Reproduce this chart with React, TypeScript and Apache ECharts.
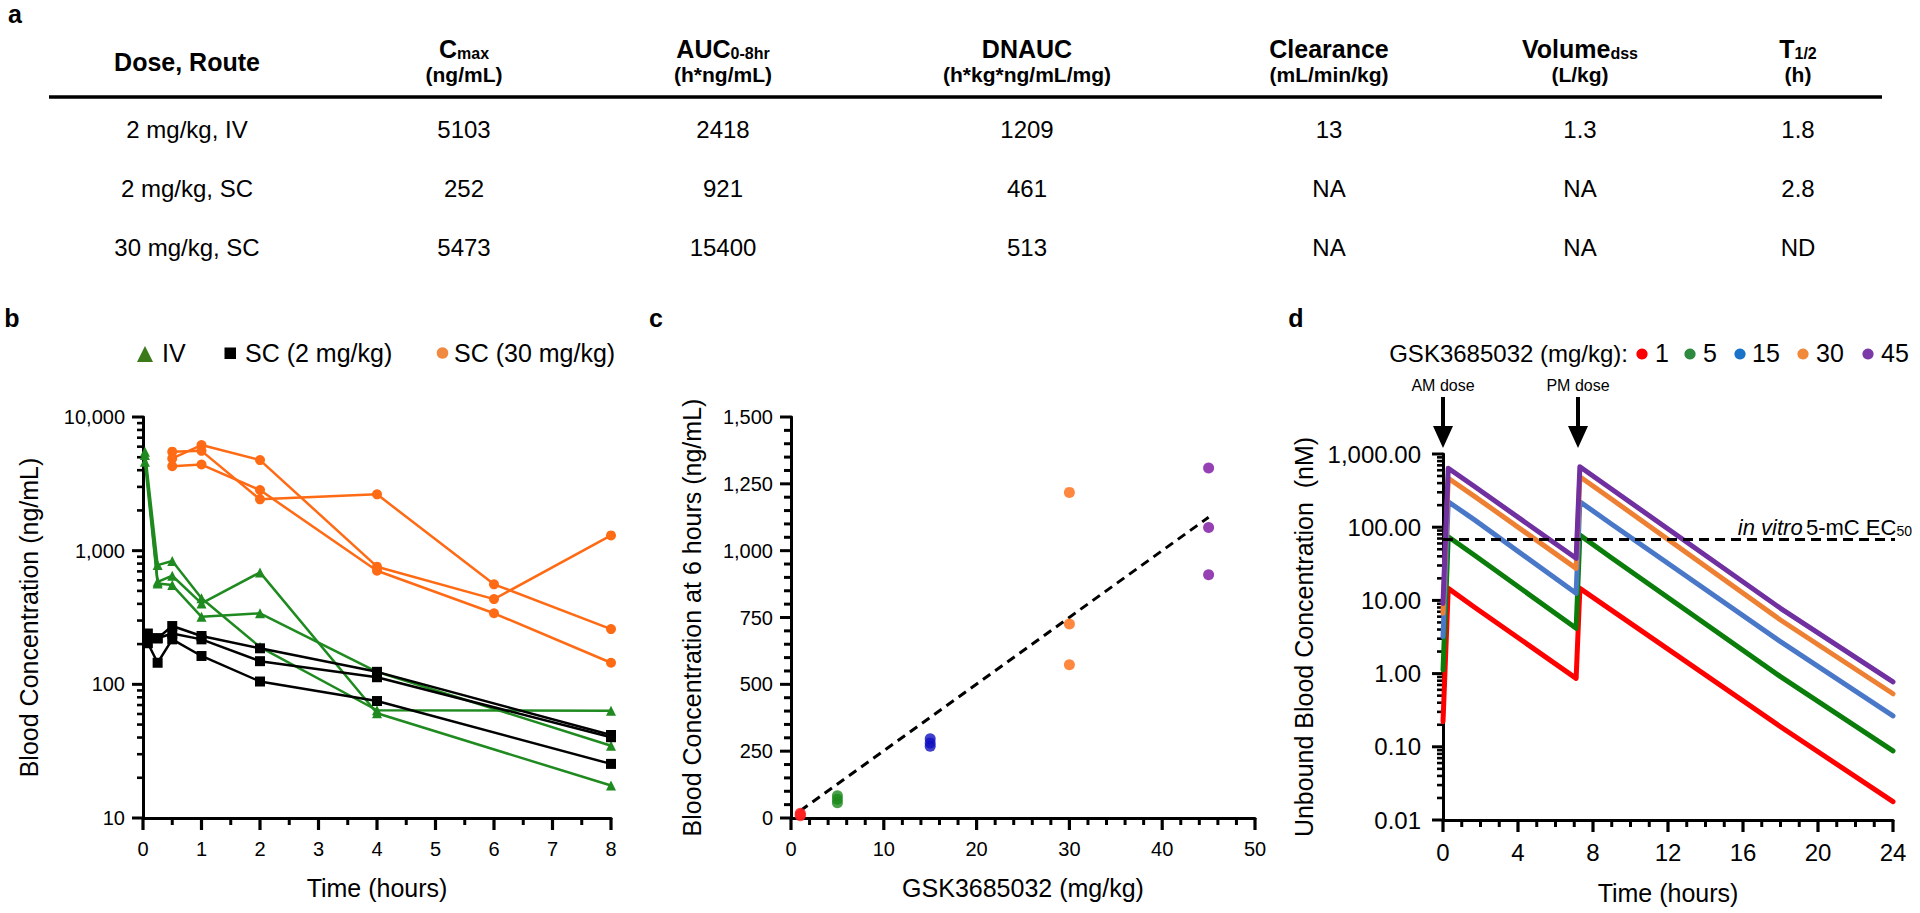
import React, { useEffect, useRef } from "react";
import * as echarts from "echarts";

const FONT = "'Liberation Sans', Arial, Helvetica, sans-serif";

// ---------------- panel a : table ----------------
const tableDoseRoute = ["2 mg/kg, IV", "2 mg/kg, SC", "30 mg/kg, SC"];
const tableCmax = ["5103", "252", "5473"];
const tableAuc = ["2418", "921", "15400"];
const tableDnauc = ["1209", "461", "513"];
const tableClearance = ["13", "NA", "NA"];
const tableVolume = ["1.3", "NA", "NA"];
const tableHalfLife = ["1.8", "2.8", "ND"];
const tableHeaderMain = ["Dose, Route", "C", "AUC", "DNAUC", "Clearance", "Volume", "T"];
const tableHeaderSub = ["", "max", "0-8hr", "", "", "dss", "1/2"];
const tableHeaderUnit = ["", "(ng/mL)", "(h*ng/mL)", "(h*kg*ng/mL/mg)", "(mL/min/kg)", "(L/kg)", "(h)"];

// ---------------- panel b : PK profiles ----------------
const bIvTimes = [0.033, 0.25, 0.5, 1, 2, 4, 8];
const bIvAnimal1 = [5500, 780, 836, 440, 190, 64, 63.5];
const bIvAnimal2 = [5200, 585, 649, 403, 688, 60.7, 17.5];
const bIvAnimal3 = [4620, 569, 553, 320, 340, 124, 34.7];
const bSc2Times = [0.083, 0.25, 0.5, 1, 2, 4, 8];
const bSc2Animal1 = [240, 221, 273, 230, 186, 124, 41.8];
const bSc2Animal2 = [222, 221, 240, 217, 149, 113, 40.2];
const bSc2Animal3 = [203, 145, 217, 163, 105, 75, 25.4];
const bSc30Times = [0.5, 1, 2, 4, 6, 8];
const bSc30Animal1 = [4900, 6170, 4760, 759, 434, 1300];
const bSc30Animal2 = [5500, 5580, 2420, 2640, 560, 259];
const bSc30Animal3 = [4290, 4410, 2840, 708, 340, 145];
const bLegendNames = ["IV", "SC (2 mg/kg)", "SC (30 mg/kg)"];

// ---------------- panel c : dose vs 6 h concentration ----------------
const cDose1 = [8, 13, 18];
const cDose5 = [57, 70, 83];
const cDose15 = [268, 281, 296];
const cDose30 = [573, 726, 1218];
const cDose45 = [910, 1087, 1309];
const cFitDoses = [1, 45];
const cFitConc = [27, 1125];

// ---------------- panel d : simulated unbound concentration ----------------
const dTimes = [0, 0.28, 1.7, 7.1, 7.3, 9, 18, 24];
const dConc1 = [0.22, 14.6, 8.0, 0.86, 14.6, 7.3, 0.188, 0.0178];
const dConc5 = [1.12, 74, 41, 4.16, 78, 38, 0.91, 0.088];
const dConc15 = [3.2, 223, 125, 12.5, 223, 110, 2.73, 0.265];
const dConc30 = [6.7, 466, 262, 27.4, 490, 241, 5.4, 0.53];
const dConc45 = [9.1, 640, 357, 37.6, 671, 330, 7.8, 0.77];
const dDoseNames = ["1", "5", "15", "30", "45"];
const dEc50 = 68;
const dEc50End = 24.8;
const dDoseTimes = [0, 7.2];
const dDoseLabels = ["AM dose", "PM dose"];

// ---------------- axis ticks ----------------
const bXMajorTicks = [0, 1, 2, 3, 4, 5, 6, 7, 8];
const bXMinorTicks = [0.5, 1.5, 2.5, 3.5, 4.5, 5.5, 6.5, 7.5];
const bYMajorTicks = [10, 100, 1000, 10000];
const bYMinorTicks = [20, 30, 40, 50, 60, 70, 80, 90, 200, 300, 400, 500, 600, 700, 800, 900, 2000, 3000, 4000, 5000, 6000, 7000, 8000, 9000];
const cXMajorTicks = [0, 10, 20, 30, 40, 50];
const cXMinorTicks = [2, 4, 6, 8, 12, 14, 16, 18, 22, 24, 26, 28, 32, 34, 36, 38, 42, 44, 46, 48];
const cYMajorTicks = [0, 250, 500, 750, 1000, 1250, 1500];
const cYMinorTicks = [50, 100, 150, 200, 300, 350, 400, 450, 550, 600, 650, 700, 800, 850, 900, 950, 1050, 1100, 1150, 1200, 1300, 1350, 1400, 1450];
const dXMajorTicks = [0, 4, 8, 12, 16, 20, 24];
const dXMinorTicks = [1, 2, 3, 5, 6, 7, 9, 10, 11, 13, 14, 15, 17, 18, 19, 21, 22, 23];
const dYMajorTicks = [0.01, 0.1, 1, 10, 100, 1000];
const dYMinorTicks = [
  0.02, 0.03, 0.04, 0.05, 0.06, 0.07, 0.08, 0.09,
  0.2, 0.3, 0.4, 0.5, 0.6, 0.7, 0.8, 0.9,
  2, 3, 4, 5, 6, 7, 8, 9,
  20, 30, 40, 50, 60, 70, 80, 90,
  200, 300, 400, 500, 600, 700, 800, 900,
];

const pairs = (xs: number[], ys: number[]) => xs.map((x, i) => [x, ys[i]]);
const atX = (x: number, ys: number[]) => ys.map((y) => [x, y]);

const C_GREEN_B = "#1f8a1f";
const C_ORANGE_B = "#ff6a14";
const D_COLORS = ["#ff0000", "#0a7d0a", "#4a78c8", "#ee8034", "#7030a0"];
const D_LEGEND_COLORS = ["#ff0000", "#2d8a3e", "#1a73c8", "#f08a3a", "#7b3aa8"];

const axisLineStyle = { show: true, onZero: false, lineStyle: { color: "#000", width: 3 } };
const nameStyle = { color: "#000", fontSize: 25, fontFamily: FONT };
const labelStyle = (size: number, margin: number) => ({ show: true, color: "#000", fontSize: size, fontFamily: FONT, margin });

function buildOption() {
  const bLine = (name: string, data: number[][], color: string, symbol: string, size: number) => ({
    type: "line",
    name,
    xAxisIndex: 0,
    yAxisIndex: 0,
    data,
    symbol,
    symbolSize: size,
    showSymbol: true,
    lineStyle: { color, width: 2.5 },
    itemStyle: { color },
    clip: false,
  });
  const cScatter = (data: number[][], color: string) => ({
    type: "scatter",
    xAxisIndex: 1,
    yAxisIndex: 1,
    data,
    symbolSize: 11,
    itemStyle: { color },
    z: 5,
  });
  const dLine = (i: number, ys: number[]) => ({
    type: "line",
    name: dDoseNames[i],
    xAxisIndex: 2,
    yAxisIndex: 2,
    data: pairs(dTimes, ys),
    showSymbol: false,
    lineStyle: { color: D_COLORS[i], width: 5, cap: "round", join: "round" },
    itemStyle: { color: D_COLORS[i] },
    clip: false,
  });
  const noTicks = { axisTick: { show: false }, minorTick: { show: false }, splitLine: { show: false } };

  return {
    animation: false,
    backgroundColor: "#fff",
    textStyle: { fontFamily: FONT },
    grid: [
      { left: 143, top: 417, width: 468, height: 401 },
      { left: 791, top: 417, width: 464, height: 401 },
      { left: 1443, top: 454, width: 450, height: 366 },
    ],
    xAxis: [
      {
        gridIndex: 0, type: "value", min: 0, max: 8, interval: 1,
        name: "Time (hours)", nameLocation: "middle", nameGap: 57, nameTextStyle: nameStyle,
        axisLine: axisLineStyle, axisLabel: labelStyle(20, 21), ...noTicks,
      },
      {
        gridIndex: 1, type: "value", min: 0, max: 50, interval: 10,
        name: "GSK3685032 (mg/kg)", nameLocation: "middle", nameGap: 57, nameTextStyle: nameStyle,
        axisLine: axisLineStyle, axisLabel: labelStyle(20, 21), ...noTicks,
      },
      {
        gridIndex: 2, type: "value", min: 0, max: 24, interval: 4,
        name: "Time (hours)", nameLocation: "middle", nameGap: 60, nameTextStyle: nameStyle,
        axisLine: axisLineStyle, axisLabel: labelStyle(24, 20), ...noTicks,
      },
    ],
    yAxis: [
      {
        gridIndex: 0, type: "log", logBase: 10, min: 10, max: 10000,
        name: "Blood Concentration (ng/mL)", nameLocation: "middle", nameGap: 102, nameTextStyle: nameStyle,
        axisLine: axisLineStyle,
        axisLabel: { ...labelStyle(20, 18), formatter: (v: number) => Math.round(v).toLocaleString("en-US") },
        ...noTicks,
      },
      {
        gridIndex: 1, type: "value", min: 0, max: 1500, interval: 250,
        name: "Blood Concentration at 6 hours (ng/mL)", nameLocation: "middle", nameGap: 87, nameTextStyle: nameStyle,
        axisLine: axisLineStyle,
        axisLabel: { ...labelStyle(20, 18), formatter: (v: number) => v.toLocaleString("en-US") },
        ...noTicks,
      },
      {
        gridIndex: 2, type: "log", logBase: 10, min: 0.01, max: 1000,
        name: "Unbound Blood Concentration  (nM)", nameLocation: "middle", nameGap: 127, nameTextStyle: nameStyle,
        axisLine: axisLineStyle,
        axisLabel: {
          ...labelStyle(24, 22),
          formatter: (v: number) => v.toLocaleString("en-US", { minimumFractionDigits: 2, maximumFractionDigits: 2 }),
        },
        ...noTicks,
      },
    ],
    series: [
      bLine(bLegendNames[0], pairs(bIvTimes, bIvAnimal1), C_GREEN_B, "triangle", 10),
      bLine(bLegendNames[0], pairs(bIvTimes, bIvAnimal2), C_GREEN_B, "triangle", 10),
      bLine(bLegendNames[0], pairs(bIvTimes, bIvAnimal3), C_GREEN_B, "triangle", 10),
      bLine(bLegendNames[1], pairs(bSc2Times, bSc2Animal1), "#000", "rect", 10),
      bLine(bLegendNames[1], pairs(bSc2Times, bSc2Animal2), "#000", "rect", 10),
      bLine(bLegendNames[1], pairs(bSc2Times, bSc2Animal3), "#000", "rect", 10),
      bLine(bLegendNames[2], pairs(bSc30Times, bSc30Animal1), C_ORANGE_B, "circle", 10),
      bLine(bLegendNames[2], pairs(bSc30Times, bSc30Animal2), C_ORANGE_B, "circle", 10),
      bLine(bLegendNames[2], pairs(bSc30Times, bSc30Animal3), C_ORANGE_B, "circle", 10),
      {
        type: "line",
        xAxisIndex: 1,
        yAxisIndex: 1,
        data: pairs(cFitDoses, cFitConc),
        showSymbol: false,
        lineStyle: { color: "#000", width: 3, type: [9, 6] },
        z: 3,
      },
      cScatter(atX(1, cDose1), "#ff2020"),
      cScatter(atX(5, cDose5), "#1a8a1a"),
      cScatter(atX(15, cDose15), "#1010c0"),
      cScatter(atX(30, cDose30), "#ff6a10"),
      cScatter(atX(45, cDose45), "#7a10a0"),
      dLine(0, dConc1),
      dLine(1, dConc5),
      dLine(2, dConc15),
      dLine(3, dConc30),
      dLine(4, dConc45),
      {
        type: "line",
        xAxisIndex: 2,
        yAxisIndex: 2,
        data: [[0, dEc50], [dEc50End, dEc50]],
        showSymbol: false,
        clip: false,
        lineStyle: { color: "#000", width: 3, type: [10, 6] },
        z: 6,
      },
    ],
  };
}

function buildGraphics(chart: any) {
  const els: any[] = [];
  const txt = (x: number, y: number, text: string, size: number, align = "left", extra: any = {}) =>
    els.push({
      type: "text",
      x,
      y,
      style: { text, fontSize: size, fontFamily: FONT, fill: "#000", align, verticalAlign: "middle", ...extra },
    });

  // axis ticks, positioned through each grid's scales
  const xTicks = (grid: number, values: number[], yRef: number, len: number, w: number) =>
    values.forEach((v) => {
      const p = chart.convertToPixel({ gridIndex: grid }, [v, yRef]);
      els.push({ type: "rect", shape: { x: p[0] - w / 2, y: p[1], width: w, height: len }, style: { fill: "#000" } });
    });
  const yTicks = (grid: number, values: number[], xRef: number, len: number, w: number) =>
    values.forEach((v) => {
      const p = chart.convertToPixel({ gridIndex: grid }, [xRef, v]);
      els.push({ type: "rect", shape: { x: p[0] - len, y: p[1] - w / 2, width: len, height: w }, style: { fill: "#000" } });
    });
  xTicks(0, bXMajorTicks, 10, 12, 3.2);
  xTicks(0, bXMinorTicks, 10, 7, 3);
  yTicks(0, bYMajorTicks, 0, 11, 3);
  yTicks(0, bYMinorTicks, 0, 6, 2.6);
  xTicks(1, cXMajorTicks, 0, 12, 3.2);
  xTicks(1, cXMinorTicks, 0, 7, 3);
  yTicks(1, cYMajorTicks, 0, 11, 3);
  yTicks(1, cYMinorTicks, 0, 7, 3);
  xTicks(2, dXMajorTicks, 0.01, 12, 3.2);
  xTicks(2, dXMinorTicks, 0.01, 7, 3);
  yTicks(2, dYMajorTicks, 0, 11, 3);
  yTicks(2, dYMinorTicks, 0, 6, 2.6);

  // panel letters
  const letters: [string, number, number][] = [["a", 15, 14], ["b", 12, 318], ["c", 656, 318], ["d", 1296, 318]];
  letters.forEach(([t, x, y]) => txt(x, y, t, 25, "center", { fontWeight: "bold" }));

  // table
  const colX = [187, 464, 723, 1027, 1329, 1580, 1798];
  const rowY = [129, 188, 247];
  const columns = [tableDoseRoute, tableCmax, tableAuc, tableDnauc, tableClearance, tableVolume, tableHalfLife];
  tableHeaderMain.forEach((m, i) => {
    const sub = tableHeaderSub[i];
    els.push({
      type: "text",
      x: colX[i],
      y: i === 0 ? 60 : 47,
      style: {
        text: sub ? `{m|${m}}{s|${sub}}` : `{m|${m}}`,
        align: "center",
        verticalAlign: "middle",
        rich: {
          m: { fontSize: 25, fontWeight: "bold", fontFamily: FONT, fill: "#000", lineHeight: 28, verticalAlign: "bottom" },
          s: { fontSize: 16, fontWeight: "bold", fontFamily: FONT, fill: "#000", lineHeight: 16, verticalAlign: "bottom" },
        },
      },
    });
    if (tableHeaderUnit[i]) txt(colX[i], 74, tableHeaderUnit[i], 21, "center", { fontWeight: "bold" });
  });
  els.push({ type: "rect", shape: { x: 49, y: 95.25, width: 1833, height: 3.5 }, style: { fill: "#000" } });
  columns.forEach((col, i) => col.forEach((v, r) => txt(colX[i], rowY[r], v, 24, "center")));

  // panel b legend
  els.push({ type: "polygon", shape: { points: [[137, 362], [153, 362], [145, 346]] }, style: { fill: "#3a7a18" } });
  txt(162, 353, bLegendNames[0], 25);
  els.push({ type: "rect", shape: { x: 224.5, y: 347.5, width: 11.5, height: 11.5 }, style: { fill: "#000" } });
  txt(245, 353, bLegendNames[1], 25);
  els.push({ type: "circle", shape: { cx: 442.5, cy: 353, r: 5.8 }, style: { fill: "#f08a40" } });
  txt(454, 353, bLegendNames[2], 25);

  // panel d legend
  txt(1628, 353, "GSK3685032 (mg/kg):", 24, "right");
  const dotX = [1642, 1690, 1740, 1803, 1868];
  const labX = [1655, 1703, 1752, 1816, 1881];
  dDoseNames.forEach((n, i) => {
    els.push({ type: "circle", shape: { cx: dotX[i], cy: 354, r: 5.6 }, style: { fill: D_LEGEND_COLORS[i] } });
    txt(labX[i], 353, n, 25);
  });

  // dose arrows
  dDoseTimes.forEach((t, i) => {
    const x = chart.convertToPixel({ gridIndex: 2 }, [t, 1000])[0];
    els.push({ type: "rect", shape: { x: x - 2, y: 397, width: 4, height: 32 }, style: { fill: "#000" } });
    els.push({ type: "polygon", shape: { points: [[x - 10, 426], [x + 10, 426], [x, 448]] }, style: { fill: "#000" } });
    txt(x, 385, dDoseLabels[i], 16, "center");
  });

  // EC50 label
  const e = chart.convertToPixel({ gridIndex: 2 }, [dEc50End, dEc50]);
  els.push({
    type: "text",
    x: e[0] + 4,
    y: e[1] - 14,
    style: {
      text: "{i|in vitro} {n|5-mC EC}{s|50}",
      align: "right",
      verticalAlign: "middle",
      rich: {
        i: { fontSize: 22, fontStyle: "italic", fontFamily: FONT, fill: "#000", lineHeight: 26, verticalAlign: "bottom" },
        n: { fontSize: 22, fontFamily: FONT, fill: "#000", lineHeight: 26, verticalAlign: "bottom" },
        s: { fontSize: 14, fontFamily: FONT, fill: "#000", lineHeight: 14, verticalAlign: "bottom" },
      },
    },
  });
  return els;
}

export default function App() {
  const ref = useRef<HTMLDivElement>(null);
  useEffect(() => {
    if (!ref.current) return;
    const chart = echarts.init(ref.current, null, { renderer: "svg" });
    chart.setOption(buildOption() as any);
    chart.setOption({ graphic: { elements: buildGraphics(chart) } } as any);
    return () => chart.dispose();
  }, []);
  return (
    <div
      ref={ref}
      style={{ position: "absolute", left: 0, top: 0, width: 1920, height: 913, background: "#fff" }}
    />
  );
}
